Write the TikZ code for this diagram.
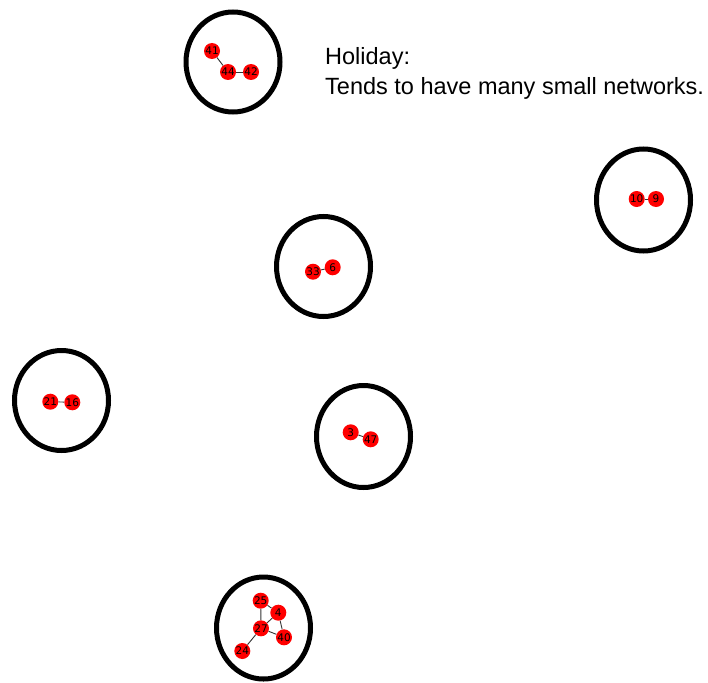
\documentclass[tikz,border=0pt]{standalone}
\usepackage{fontspec}
\setmainfont{Liberation Sans}
\newfontfamily\labelfont{DejaVu Sans}
\begin{document}
\begin{tikzpicture}[x=1pt,y=-1pt,
  group/.style={draw=black,line width=5pt},
  vertex/.style={circle,fill=red,inner sep=0pt,minimum size=16pt,font=\labelfont\fontsize{10.5}{10.5}\selectfont},
  link/.style={draw=black!80,line width=0.9pt}]
\useasboundingbox (0,0) rectangle (708,682);

% community outlines
\draw[group] (233,62) ellipse [x radius=47,y radius=50];
\draw[group] (643.5,200) ellipse [x radius=47,y radius=51];
\draw[group] (323.5,266.5) ellipse [x radius=47,y radius=50];
\draw[group] (61.5,400.5) ellipse [x radius=47,y radius=50];
\draw[group] (363.5,436.5) ellipse [x radius=47,y radius=51];
\draw[group] (263.5,628) ellipse [x radius=47,y radius=51];

% vertices
\node[vertex] (n41) at (212,51) {41};
\node[vertex] (n44) at (228,72) {44};
\node[vertex] (n42) at (251,72) {42};
\node[vertex] (n10) at (636.7,199) {10};
\node[vertex] (n9) at (656,199) {9};
\node[vertex] (n33) at (313,271.7) {33};
\node[vertex] (n6) at (332.7,267.3) {6};
\node[vertex] (n21) at (50.3,401.7) {21};
\node[vertex] (n16) at (72.3,402.3) {16};
\node[vertex] (n3) at (350.7,432.3) {3};
\node[vertex] (n47) at (370.7,439.3) {47};
\node[vertex] (n25) at (260.7,600.7) {25};
\node[vertex] (n4) at (278.3,612.7) {4};
\node[vertex] (n27) at (261,628.3) {27};
\node[vertex] (n40) at (284,637.3) {40};
\node[vertex] (n24) at (242.3,651) {24};

% edges
\path[link] (n41) -- (n44);
\path[link] (n44) -- (n42);
\path[link] (n10) -- (n9);
\path[link] (n33) -- (n6);
\path[link] (n21) -- (n16);
\path[link] (n3) -- (n47);
\path[link] (n25) -- (n27);
\path[link] (n25) -- (n4);
\path[link] (n4) -- (n27);
\path[link] (n4) -- (n40);
\path[link] (n27) -- (n40);
\path[link] (n27) -- (n24);

% caption
\node[anchor=base west,inner sep=0pt,font=\fontsize{23.5}{28}\selectfont] (title) at (325,65) {Holiday:};
\node[anchor=base west,inner sep=0pt,font=\fontsize{23.5}{28}\selectfont] (caption) at (325,95) {Tends to have many small networks.};
\end{tikzpicture}
\end{document}
